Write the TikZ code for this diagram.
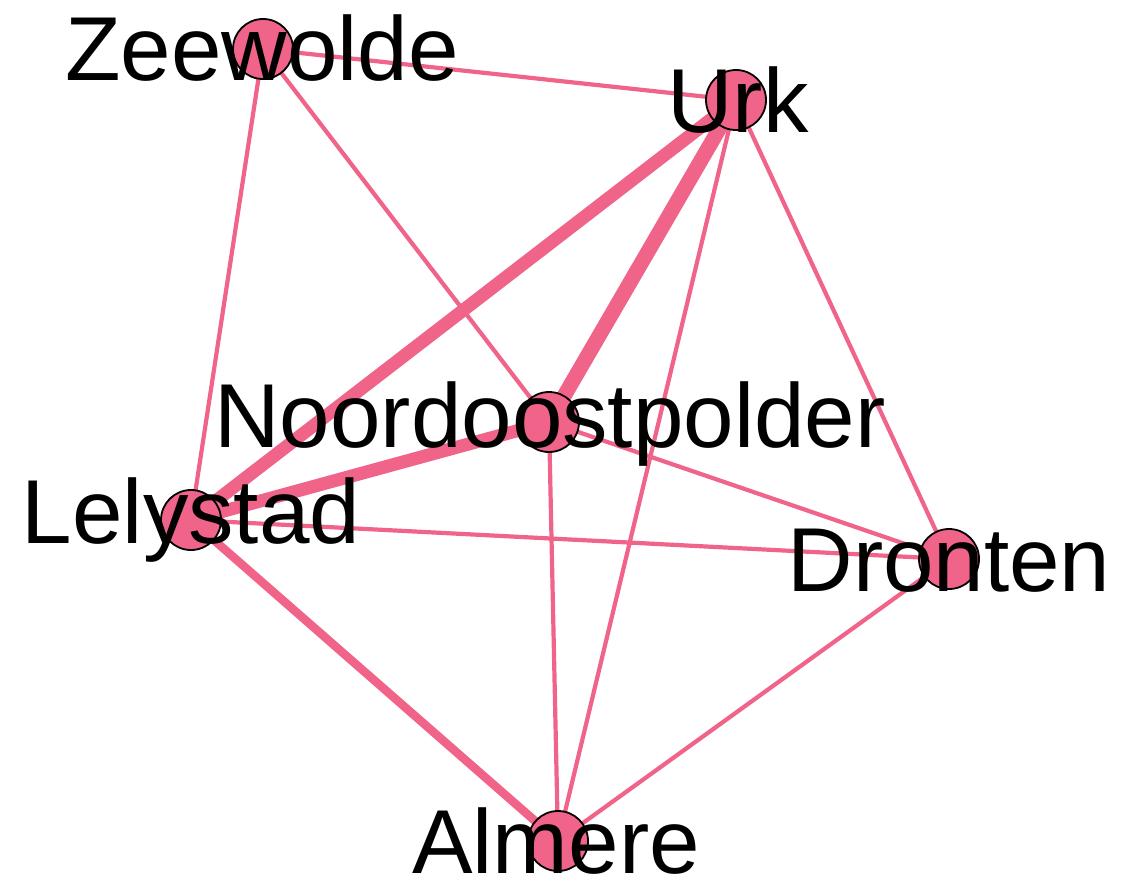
\documentclass[tikz,border=0pt]{standalone}
\usepackage{fontspec}
\setmainfont{Liberation Sans}
\usepackage{tikz}
\usetikzlibrary{backgrounds}
\definecolor{PolderPink}{HTML}{F0648A}
\tikzset{
  town/.style={circle, draw=black, line width=1.8pt, fill=PolderPink,
    minimum size=60pt, inner sep=0pt},
  townname/.style={anchor=base, inner sep=0pt,
    font=\fontsize{90.8pt}{100pt}\selectfont},
  tie/.style={draw=PolderPink, line width=4.2pt},
  midtie/.style={tie, line width=8.5pt},
  strongtie/.style={tie, line width=13pt},
  maxtie/.style={tie, line width=15pt}
}

\begin{document}
\begin{tikzpicture}[x=1pt, y=-1pt]
  \useasboundingbox (0,0) rectangle (1134,880);
  \node[town] (zeewolde) at (263,49) {};
  \node[town] (urk) at (736,100) {};
  \node[town] (noordoostpolder) at (549,422) {};
  \node[town] (lelystad) at (191,520) {};
  \node[town] (dronten) at (949,559) {};
  \node[town] (almere) at (558,841) {};
  \begin{scope}[on background layer]
    \draw[tie] (zeewolde.center) -- (urk.center);
    \draw[tie] (zeewolde.center) -- (lelystad.center);
    \draw[tie] (zeewolde.center) -- (noordoostpolder.center);
    \draw[strongtie] (urk.center) -- (lelystad.center);
    \draw[maxtie] (urk.center) -- (noordoostpolder.center);
    \draw[tie] (urk.center) -- (almere.center);
    \draw[tie] (urk.center) -- (dronten.center);
    \draw[strongtie] (noordoostpolder.center) -- (lelystad.center);
    \draw[tie] (noordoostpolder.center) -- (dronten.center);
    \draw[tie] (noordoostpolder.center) -- (almere.center);
    \draw[tie] (lelystad.center) -- (dronten.center);
    \draw[midtie] (lelystad.center) -- (almere.center);
    \draw[tie] (dronten.center) -- (almere.center);
  \end{scope}
  % names sit over the dots
  \node[townname] (zeewolde-name) at (262,81) {Zeewolde};
  \node[townname] (urk-name) at (738,132) {Urk};
  \node[townname] (noordoostpolder-name) at (550,447) {Noordoostpolder};
  \node[townname] (lelystad-name) at (191,543) {Lelystad};
  \node[townname] (dronten-name) at (949,591) {Dronten};
  \node[townname] (almere-name) at (556,873) {Almere};
\end{tikzpicture}
\end{document}
